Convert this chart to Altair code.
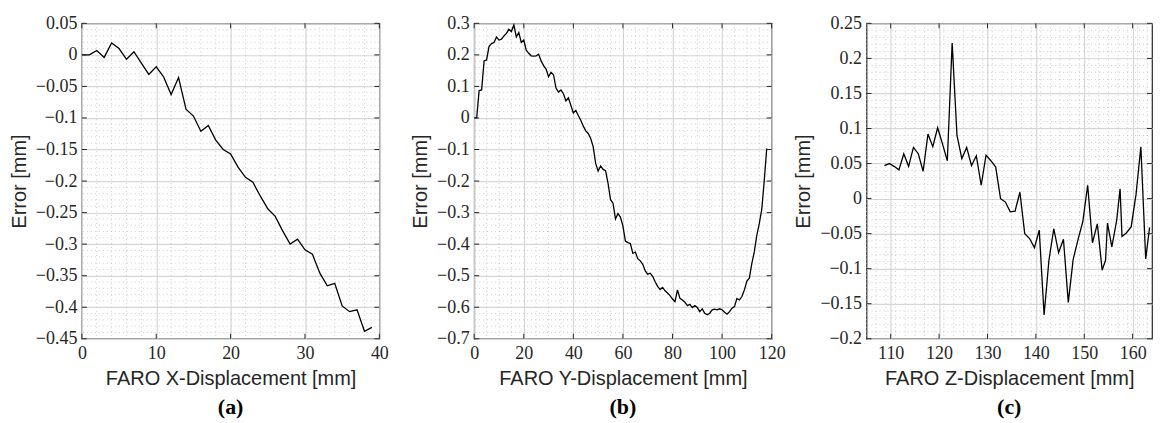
import altair as alt
import pandas as pd
import numpy as np

# ---------------- data ----------------
xa = list(range(0, 40))
ya = [0.0, 0.0, 0.007, -0.004, 0.019, 0.010, -0.007, 0.005, -0.013, -0.031,
      -0.019, -0.035, -0.063, -0.036, -0.086, -0.097, -0.121, -0.112, -0.135, -0.150,
      -0.157, -0.178, -0.194, -0.202, -0.224, -0.244, -0.256, -0.279, -0.300, -0.292,
      -0.309, -0.316, -0.346, -0.366, -0.362, -0.398, -0.407, -0.404, -0.438, -0.432]

xb = list(range(0, 119))
yb = [0.0, 0.0, 0.087, 0.089, 0.181, 0.184, 0.227, 0.236, 0.239, 0.257,
      0.247, 0.250, 0.260, 0.268, 0.281, 0.274, 0.295, 0.257, 0.271, 0.239,
      0.247, 0.215, 0.205, 0.197, 0.196, 0.197, 0.202, 0.181, 0.166, 0.155,
      0.131, 0.145, 0.137, 0.095, 0.082, 0.089, 0.077, 0.054, 0.064, 0.040,
      0.016, 0.024, 0.008, -0.007, -0.026, -0.041, -0.049, -0.065, -0.091, -0.144,
      -0.168, -0.152, -0.163, -0.167, -0.207, -0.259, -0.270, -0.320, -0.303, -0.314,
      -0.343, -0.390, -0.395, -0.398, -0.429, -0.425, -0.446, -0.453, -0.464, -0.485,
      -0.495, -0.492, -0.502, -0.519, -0.534, -0.544, -0.537, -0.548, -0.555, -0.563,
      -0.574, -0.582, -0.545, -0.572, -0.577, -0.584, -0.595, -0.591, -0.601, -0.595,
      -0.601, -0.614, -0.605, -0.619, -0.624, -0.619, -0.608, -0.606, -0.608, -0.605,
      -0.608, -0.616, -0.622, -0.614, -0.603, -0.598, -0.572, -0.577, -0.566, -0.545,
      -0.517, -0.508, -0.461, -0.424, -0.372, -0.335, -0.290, -0.200, -0.097]

xc = [108.7, 109.7, 110.7, 111.7, 112.7, 113.7, 114.7, 115.7, 116.7, 117.7,
      118.7, 119.7, 120.7, 121.7, 122.7, 123.7, 124.7, 125.7, 126.7, 127.7,
      128.7, 129.7, 130.7, 131.7, 132.7, 133.7, 134.7, 135.7, 136.7, 137.7,
      138.7, 139.7, 140.7, 141.7, 142.7, 143.7, 144.7, 145.7, 146.7, 147.7,
      148.7, 149.7, 150.7, 151.7, 152.7, 153.7, 154.4, 154.8, 155.7, 156.7,
      157.4, 157.8, 158.7, 159.7, 160.7, 161.7, 162.7, 163.5]
yc = [0.047, 0.050, 0.046, 0.041, 0.064, 0.046, 0.073, 0.064, 0.039, 0.092,
      0.074, 0.101, 0.078, 0.054, 0.222, 0.090, 0.057, 0.073, 0.047, 0.061,
      0.019, 0.062, 0.054, 0.045, 0.000, -0.005, -0.019, -0.018, 0.009, -0.050,
      -0.057, -0.070, -0.045, -0.166, -0.088, -0.043, -0.077, -0.058, -0.148, -0.087,
      -0.059, -0.033, 0.019, -0.063, -0.036, -0.102, -0.088, -0.035, -0.069, -0.031,
      0.014, -0.054, -0.049, -0.040, 0.006, 0.074, -0.086, -0.041]

# tick values
xa_ticks = [0, 10, 20, 30, 40]
ya_ticks = [0.05, 0, -0.05, -0.1, -0.15, -0.2, -0.25, -0.3, -0.35, -0.4, -0.45]
xb_ticks = [0, 20, 40, 60, 80, 100, 120]
yb_ticks = [0.3, 0.2, 0.1, 0, -0.1, -0.2, -0.3, -0.4, -0.5, -0.6, -0.7]
xc_ticks = [110, 120, 130, 140, 150, 160]
yc_ticks = [0.25, 0.2, 0.15, 0.1, 0.05, 0, -0.05, -0.1, -0.15, -0.2]

H = 316
LABEL_FONT = "Liberation Serif"
TITLE_FONT = "Liberation Sans"
DARK = "#262626"


def minor(lo, hi, step, majors):
    vals = np.round(np.arange(lo, hi + step / 2, step), 6)
    return [float(v) for v in vals if not any(abs(v - m) < 1e-9 for m in majors)]


def panel(xs, ys, xdom, ydom, xt, yt, xstep, ystep, xtitle, caption, W):
    xs_ = alt.Scale(domain=xdom, nice=False, zero=False)
    ys_ = alt.Scale(domain=ydom, nice=False, zero=False)
    xax = alt.Axis(values=xt, format="d", title=xtitle, grid=True, ticks=False,
                   domain=False, labelPadding=6, titlePadding=6,
                   labelFlush=False, labelOverlap=False)
    yax = alt.Axis(values=yt, format="~g", title="Error [mm]", grid=True, ticks=False,
                   domain=False, labelPadding=5, titlePadding=6,
                   labelFlush=False, labelOverlap=False)
    df = pd.DataFrame({"x": xs, "y": ys})

    mx = pd.DataFrame({"v": minor(xdom[0], xdom[1], xstep, xt)})
    my = pd.DataFrame({"v": minor(ydom[0], ydom[1], ystep, yt)})
    dot = dict(strokeDash=[1, 3], color="#b0b0b0", strokeWidth=0.8, opacity=0.8)
    minor_x = alt.Chart(mx).mark_rule(**dot).encode(
        x=alt.X("v:Q", scale=xs_, axis=xax))
    minor_y = alt.Chart(my).mark_rule(**dot).encode(
        y=alt.Y("v:Q", scale=ys_, axis=yax))

    line = alt.Chart(df).mark_line(color="black", strokeWidth=1.3, clip=True).encode(
        x=alt.X("x:Q", scale=xs_, axis=xax),
        y=alt.Y("y:Q", scale=ys_, axis=yax),
    )

    txd = pd.DataFrame({"v": xt})
    tyd = pd.DataFrame({"v": yt})
    tk = dict(color=DARK, strokeWidth=1)
    tb = alt.Chart(txd).mark_rule(**tk).encode(
        x=alt.X("v:Q", scale=xs_, axis=xax), y=alt.value(H), y2=alt.value(H - 5))
    tt = alt.Chart(txd).mark_rule(**tk).encode(
        x=alt.X("v:Q", scale=xs_, axis=xax), y=alt.value(0), y2=alt.value(5))
    tl = alt.Chart(tyd).mark_rule(**tk).encode(
        y=alt.Y("v:Q", scale=ys_, axis=yax), x=alt.value(0), x2=alt.value(5))
    tr = alt.Chart(tyd).mark_rule(**tk).encode(
        y=alt.Y("v:Q", scale=ys_, axis=yax), x=alt.value(W - 5), x2=alt.value(W))

    return alt.layer(minor_x, minor_y, line, tb, tt, tl, tr).properties(
        width=W, height=H,
        title=alt.TitleParams(caption, orient="bottom", anchor="middle",
                              font=LABEL_FONT, fontSize=22, fontWeight="bold",
                              color="black", offset=8),
    )


pa = panel(xa, ya, [0, 40], [-0.45, 0.05], xa_ticks, ya_ticks, 2, 0.01,
           "FARO X-Displacement [mm]", "(a)", 298)
pb = panel(xb, yb, [0, 120], [-0.7, 0.3], xb_ticks, yb_ticks, 5, 0.02,
           "FARO Y-Displacement [mm]", "(b)", 298)
pc = panel(xc, yc, [105, 164], [-0.2, 0.25], xc_ticks, yc_ticks, 2, 0.01,
           "FARO Z-Displacement [mm]", "(c)", 286)

chart = alt.hconcat(pa, pb, pc, spacing=95, bounds="flush").properties(
    padding={"left": 0, "top": 5, "right": 0, "bottom": 0}
).configure_view(
    stroke=DARK, strokeWidth=1.2
).configure_axis(
    labelFont=LABEL_FONT, labelFontSize=18, labelColor=DARK,
    titleFont=TITLE_FONT, titleFontSize=20, titleFontWeight="normal", titleColor=DARK,
    gridColor="#d6d6d6", gridWidth=1.2,
)

chart.save("out.html", embed_options={"renderer": "svg", "actions": False})
